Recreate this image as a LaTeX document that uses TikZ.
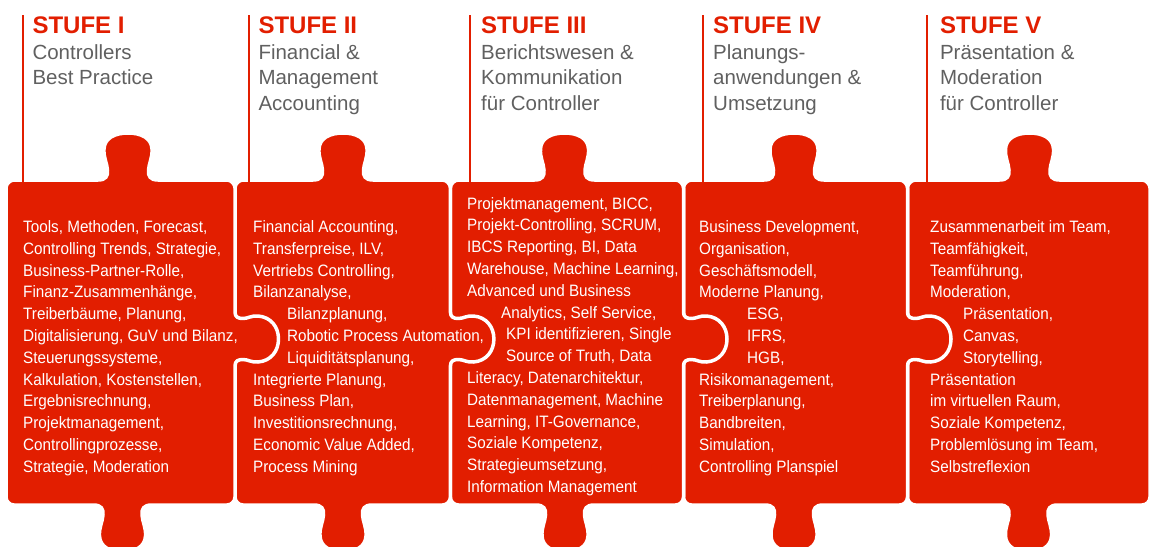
\documentclass[tikz,border=0pt]{standalone}
\usepackage{fontspec}
\setmainfont{Liberation Sans}
\newfontfamily\bodyfont[FakeStretch=0.925]{Liberation Sans}
\newfontfamily\headfont{Liberation Sans}
\definecolor{pzred}{RGB}{226,30,0}
\definecolor{pzgray}{RGB}{96,96,96}
% #1 L, #2 R, #3 top tab centre, #4 bottom tab centre
\newcommand\pzpieceT[4]{%
\path[piece] (#1,188) .. controls (#1,183.6) and ({#1+4.4},180) .. ({#1+8},180)
 -- ({#3-30},180) .. controls ({#3-22},180) and ({#3-20},176) .. ({#3-20.5},170)
 .. controls ({#3-21},163) and ({#3-24.5},158) .. ({#3-24},149)
 .. controls ({#3-23.5},138) and ({#3-13},133) .. (#3,133)
 .. controls ({#3+13},133) and ({#3+23.5},138) .. ({#3+24},149)
 .. controls ({#3+24.5},158) and ({#3+21},163) .. ({#3+20.5},170)
 .. controls ({#3+20},176) and ({#3+22},180) .. ({#3+30},180)
 -- ({#2-8},180) .. controls ({#2-3.6},180) and (#2,184.4) .. (#2,188)
 -- (#2,312) .. controls (#2,317) and ({#2+3},318.5) .. ({#2+8},318.5)
 .. controls ({#2+13},318.5) and ({#2+16},315.5) .. ({#2+23},316)
 .. controls ({#2+36},317) and ({#2+43.5},327) .. ({#2+43.5},339)
 .. controls ({#2+43.5},351) and ({#2+36},361) .. ({#2+23},362)
 .. controls ({#2+16},362.5) and ({#2+13},359.5) .. ({#2+8},359.5)
 .. controls ({#2+3},359.5) and (#2,361) .. (#2,366)
 -- (#2,497) .. controls (#2,501.4) and ({#2-3.6},505) .. ({#2-8},505)
 -- ({#4+29},505) .. controls ({#4+21},505) and ({#4+19},509) .. ({#4+19.5},515)
 .. controls ({#4+20},522) and ({#4+23.5},527) .. ({#4+23},536)
 .. controls ({#4+22.5},547) and ({#4+12},552) .. (#4,552)
 .. controls ({#4-12},552) and ({#4-22.5},547) .. ({#4-23},536)
 .. controls ({#4-23.5},527) and ({#4-20},522) .. ({#4-19.5},515)
 .. controls ({#4-19},509) and ({#4-21},505) .. ({#4-29},505)
 -- ({#1+8},505) .. controls ({#1+3.6},505) and (#1,501.4) .. (#1,497) -- cycle;}
\newcommand\pzpieceN[4]{%
\path[piece] (#1,188) .. controls (#1,183.6) and ({#1+4.4},180) .. ({#1+8},180)
 -- ({#3-30},180) .. controls ({#3-22},180) and ({#3-20},176) .. ({#3-20.5},170)
 .. controls ({#3-21},163) and ({#3-24.5},158) .. ({#3-24},149)
 .. controls ({#3-23.5},138) and ({#3-13},133) .. (#3,133)
 .. controls ({#3+13},133) and ({#3+23.5},138) .. ({#3+24},149)
 .. controls ({#3+24.5},158) and ({#3+21},163) .. ({#3+20.5},170)
 .. controls ({#3+20},176) and ({#3+22},180) .. ({#3+30},180)
 -- ({#2-8},180) .. controls ({#2-3.6},180) and (#2,184.4) .. (#2,188)
 -- (#2,497) .. controls (#2,501.4) and ({#2-3.6},505) .. ({#2-8},505)
 -- ({#4+29},505) .. controls ({#4+21},505) and ({#4+19},509) .. ({#4+19.5},515)
 .. controls ({#4+20},522) and ({#4+23.5},527) .. ({#4+23},536)
 .. controls ({#4+22.5},547) and ({#4+12},552) .. (#4,552)
 .. controls ({#4-12},552) and ({#4-22.5},547) .. ({#4-23},536)
 .. controls ({#4-23.5},527) and ({#4-20},522) .. ({#4-19.5},515)
 .. controls ({#4-19},509) and ({#4-21},505) .. ({#4-29},505)
 -- ({#1+8},505) .. controls ({#1+3.6},505) and (#1,501.4) .. (#1,497) -- cycle;}
\tikzset{
  piece/.style={fill=pzred, draw=white, line width=3.5pt, line join=round},
  vline/.style={draw=pzred, line width=2pt},
  title/.style={anchor=base west, inner sep=0pt, text=pzred,
    font=\headfont\bfseries\fontsize{24}{24}\selectfont},
  subtitle/.style={anchor=base west, inner sep=0pt, text=pzgray, align=left,
    font=\headfont\fontsize{20.5}{25.5}\selectfont},
  body/.style={anchor=base west, inner sep=0pt, text=white, align=left,
    font=\bodyfont\fontsize{16.5}{21.8}\selectfont}
}
\begin{document}
\begin{tikzpicture}[x=1pt,y=-1pt]
\useasboundingbox (0,0) rectangle (1150,546);
% puzzle pieces, right to left so each right tab lies on its neighbour
\pzpieceN{907.5}{1150}{1029.5}{1028.5}
\pzpieceT{683.5}{907.5}{794}{794}
\pzpieceT{450.4}{683.5}{564.5}{565}
\pzpieceT{235}{450.4}{343}{343}
\pzpieceT{6}{235}{128}{122.5}
% vertical lines
\coordinate (l1t) at (22.7,15);  \coordinate (l1b) at (22.7,182);
\coordinate (l2t) at (249,15);   \coordinate (l2b) at (249,182);
\coordinate (l3t) at (469.7,15); \coordinate (l3b) at (469.7,182);
\coordinate (l4t) at (702.5,15); \coordinate (l4b) at (702.5,182);
\coordinate (l5t) at (927.4,15); \coordinate (l5b) at (927.4,182);
\draw[vline] (l1t) -- (l1b);
\draw[vline] (l2t) -- (l2b);
\draw[vline] (l3t) -- (l3b);
\draw[vline] (l4t) -- (l4b);
\draw[vline] (l5t) -- (l5b);
% titles (base anchor of multi-line nodes = last line's baseline)
\node[title] (t1) at (32.3,33.3) {STUFE I};
\node[title] (t2) at (258.3,33.3) {STUFE II};
\node[title] (t3) at (481,33.3) {STUFE III};
\node[title] (t4) at (713,33.3) {STUFE IV};
\node[title] (t5) at (939.8,33.3) {STUFE V};
\node[subtitle] (s1) at (32.3,84.8) {Controllers\\Best Practice};
\node[subtitle] (s2) at (258.3,110.3) {Financial \&\\Management\\Accounting};
\node[subtitle] (s3) at (481,110.3) {Berichtswesen \&\\Kommunikation\\für Controller};
\node[subtitle] (s4) at (713,110.3) {Planungs-\\anwendungen \&\\Umsetzung};
\node[subtitle] (s5) at (939.8,110.3) {Präsentation \&\\Moderation\\für Controller};
% body texts
\node[body] (b1) at (23,472.3) {Tools, Methoden, Forecast,\\
Controlling Trends, Strategie,\\
Business-Partner-Rolle,\\
Finanz-Zusammenhänge,\\
Treiberbäume, Planung,\\
Digitalisierung, GuV und Bilanz,\\
Steuerungssysteme,\\
Kalkulation, Kostenstellen,\\
Ergebnisrechnung,\\
Projektmanagement,\\
Controllingprozesse,\\
Strategie, Moderation};
\node[body] (b2) at (253,472.3) {Financial Accounting,\\
Transferpreise, ILV,\\
Vertriebs Controlling,\\
Bilanzanalyse,\\
\hspace*{34pt}Bilanzplanung,\\
\hspace*{34pt}Robotic Process Automation,\\
\hspace*{34pt}Liquiditätsplanung,\\
Integrierte Planung,\\
Business Plan,\\
Investitionsrechnung,\\
Economic Value Added,\\
Process Mining};
\node[body] (b3) at (467,492.5) {Projektmanagement, BICC,\\
Projekt-Controlling, SCRUM,\\
IBCS Reporting, BI, Data\\
Warehouse, Machine Learning,\\
Advanced und Business\\
\hspace*{34pt}Analytics, Self Service,\\
\hspace*{39pt}KPI identifizieren, Single\\
\hspace*{39pt}Source of Truth, Data\\
Literacy, Datenarchitektur,\\
Datenmanagement, Machine\\
Learning, IT-Governance,\\
Soziale Kompetenz,\\
Strategieumsetzung,\\
Information Management};
\node[body] (b4) at (699,472.3) {Business Development,\\
Organisation,\\
Geschäftsmodell,\\
Moderne Planung,\\
\hspace*{48pt}ESG,\\
\hspace*{48pt}IFRS,\\
\hspace*{48pt}HGB,\\
Risikomanagement,\\
Treiberplanung,\\
Bandbreiten,\\
Simulation,\\
Controlling Planspiel};
\node[body] (b5) at (930,472.3) {Zusammenarbeit im Team,\\
Teamfähigkeit,\\
Teamführung,\\
Moderation,\\
\hspace*{33pt}Präsentation,\\
\hspace*{33pt}Canvas,\\
\hspace*{33pt}Storytelling,\\
Präsentation\\
im virtuellen Raum,\\
Soziale Kompetenz,\\
Problemlösung im Team,\\
Selbstreflexion};
\end{tikzpicture}
\end{document}
